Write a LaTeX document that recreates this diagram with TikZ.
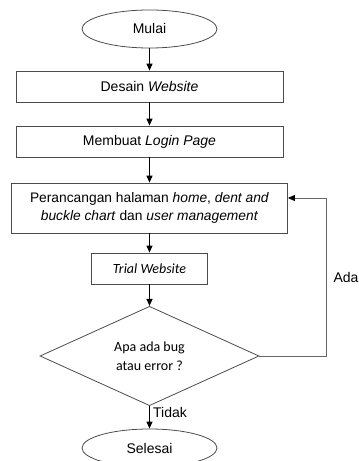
\documentclass[tikz,border=0pt]{standalone}
\usepackage{fontspec}
\setmainfont{Liberation Sans}
\newfontfamily\carlito{Carlito}
\usetikzlibrary{shapes.geometric,arrows.meta}
\tikzset{
  base/.style={draw=black!70, line width=0.8bp, inner sep=0pt, align=center,
    font=\fontsize{14bp}{18bp}\selectfont},
  term/.style={base, ellipse, minimum width=135bp, minimum height=38bp},
  proc/.style={base, rectangle},
  decis/.style={base, diamond, minimum width=219bp, minimum height=92bp, font=\carlito\fontsize{14bp}{19bp}\selectfont},
  arr/.style={line width=1.2bp, -{Triangle[length=7bp,width=6bp]}},
  loopline/.style={draw=black!60, line width=0.8bp, -{Triangle[length=7bp,width=6bp,color=black]}},
  lbl/.style={font=\fontsize{14bp}{18bp}\selectfont, inner sep=0pt}
}
\begin{document}
\begin{tikzpicture}[x=1bp,y=-1bp]
\clip (0,0) rectangle (358,461);
\useasboundingbox (0,0) rectangle (358,461);
\node[term] (mulai) at (149.5,29) {Mulai};
\node[proc, minimum width=267bp, minimum height=31bp] (desain) at (149.5,86.5) {Desain \textit{Website}};
\node[proc, minimum width=267bp, minimum height=31bp] (login) at (149.5,141.5) {Membuat \textit{Login Page}};
\node[proc, minimum width=276bp, minimum height=50bp, font=\fontsize{13.8bp}{18bp}\selectfont] (rancang) at (149.5,208) {Perancangan halaman \textit{home}, \textit{dent and}\\ \textit{buckle chart} dan \textit{user management}};
\node[proc, minimum width=116bp, minimum height=31bp, font=\carlito\fontsize{14bp}{18bp}\selectfont] (trial) at (149.5,268.5) {\textit{Trial Website}};
\node[decis] (dec) at (149.5,356) {Apa ada bug\\atau error ?};
\node[term] (selesai) at (149.5,448) {Selesai};
\coordinate (c1) at (326,356);
\coordinate (c2) at (326,198);
\draw[arr] (mulai) -- (desain);
\draw[arr] (desain) -- (login);
\draw[arr] (login) -- (rancang);
\draw[arr] (rancang) -- (trial);
\draw[arr] (trial) -- (dec);
\draw[arr] (dec) -- (selesai);
\draw[loopline] (dec.east) -- (c1) -- (c2) -- (rancang.east |- c2);
\node[lbl] (ada) at (346,277) {Ada};
\node[lbl] (tidak) at (170,412) {Tidak};
\end{tikzpicture}
\end{document}
